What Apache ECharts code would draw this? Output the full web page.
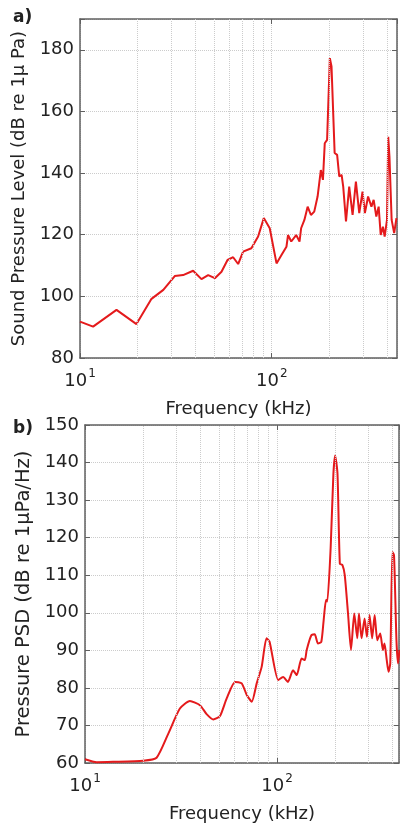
<!DOCTYPE html>
<html><head><meta charset="utf-8">
<script src="https://cdn.jsdelivr.net/npm/echarts@6/dist/echarts.min.js"></script>
<style>html,body{margin:0;padding:0;background:#fff}#c{width:400px;height:824px}</style>
</head><body><div id="c"></div>
<script>
// Panel a: Sound pressure level
var freqA = [10, 11.7, 15.5, 19.7, 23.6, 27.2, 31.2, 34.5, 38.9, 43.0, 46.6, 50.5, 54.7, 58.8, 62.9, 66.8, 70.9, 78.3, 84.9, 90.9, 97.6, 105.9, 112.4, 119.3, 121.6, 126.4, 134.1, 139.6, 142.3, 148, 153.9, 160.1, 166.6, 173.4, 180.3, 184.9, 189.0, 194.4, 200.9, 205, 212.8, 219.3, 224.9, 231.4, 235.9, 243.9, 253.5, 264, 274.7, 286, 297.5, 306, 318, 331, 340, 351, 361, 370, 380, 388, 399, 405, 411, 422, 435, 447];
var splA = [91.8, 90.2, 95.6, 91.0, 99.2, 102.1, 106.6, 106.9, 108.3, 105.6, 106.9, 105.9, 108.0, 111.8, 112.7, 110.5, 114.5, 115.6, 119.4, 125.4, 122.1, 110.7, 113.4, 116.1, 119.9, 117.8, 119.9, 117.8, 122.1, 124.8, 129.1, 126.4, 127.5, 132.4, 141.0, 137.8, 149.7, 150.8, 177.3, 174.6, 146.5, 145.9, 138.9, 139.4, 135.6, 124.3, 135.6, 126.4, 137.2, 127.0, 134.0, 127.0, 132.4, 129.1, 131.3, 125.9, 129.1, 119.9, 122.6, 119.4, 124.8, 151.8, 145.4, 124.8, 120.5, 125.4];
// Panel b: Pressure PSD
var freqB = [10, 11.5, 14.0, 20.1, 23.6, 27.2, 31.2, 35.2, 39.7, 43.0, 46.6, 50.5, 54.7, 60.5, 65.5, 69.6, 73.9, 78.4, 83.2, 88.2, 91.5, 101.4, 107.6, 114, 121.2, 126.7, 134.3, 139.6, 142.8, 151, 157.2, 163.5, 170.2, 175, 180, 182.8, 190.4, 196.7, 200.9, 206.6, 212.5, 219.3, 225.4, 234.4, 242.9, 252.6, 262, 267.3, 275.7, 285.9, 294, 303.4, 313, 322.6, 333, 345, 356, 363, 373, 381, 389, 399, 407, 419, 427, 435];
var psdB = [61.0, 60.2, 60.3, 60.6, 61.4, 67.9, 74.5, 76.5, 75.4, 73.0, 71.6, 72.5, 77.2, 81.6, 81.2, 78.1, 76.3, 81.2, 85.6, 93.2, 92.3, 82.1, 82.9, 81.6, 84.7, 83.4, 87.8, 87.4, 90.1, 94.0, 94.3, 91.8, 92.3, 98.0, 103.4, 103.0, 117.5, 137.0, 141.9, 137.0, 113.1, 112.7, 110.0, 99.8, 90.1, 99.8, 93.2, 99.8, 93.2, 98.5, 93.6, 99.4, 93.2, 99.4, 92.7, 94.5, 90.1, 91.8, 87.4, 84.3, 86.5, 116.2, 115.3, 92.7, 86.5, 90.1];
// Minor log grid positions (kHz)
var minorGrid = [20, 30, 40, 50, 60, 70, 80, 90, 200, 300, 400];
var yTicksA = {min: 80, max: 190, interval: 20};
var yTicksB = {min: 60, max: 150, interval: 10};

var FONT = 'DejaVu Sans';
var AX = '#606060';
var GRIDC = '#cccccc';
var RED = '#e41a1c';

function xLabelFmt(v) {
  var e = Math.log10(v);
  if (Math.abs(e - Math.round(e)) > 1e-6) return '';
  return '{b|10}{s|' + Math.round(e) + '}';
}
var xRich = {
  b: {fontFamily: FONT, fontSize: 18, color: '#222', lineHeight: 22, verticalAlign: 'bottom'},
  s: {fontFamily: FONT, fontSize: 12, color: '#222', lineHeight: 22, verticalAlign: 'top', padding: [0, 0, 0, 1]}
};

function makeX(gi, max, bottomAxis) {
  return {
    type: 'log', logBase: 10, gridIndex: gi, min: 10, max: max,
    position: bottomAxis ? 'bottom' : 'top',
    name: bottomAxis ? 'Frequency (kHz)' : '',
    nameLocation: 'middle', nameGap: 42,
    nameTextStyle: {fontFamily: FONT, fontSize: 18, color: '#222'},
    axisLine: {show: true, onZero: false, lineStyle: {color: AX, width: 1.5}},
    axisTick: {show: true, inside: true, length: 5, lineStyle: {color: AX}},
    axisLabel: {show: bottomAxis, formatter: xLabelFmt, rich: xRich, margin: 10, showMaxLabel: false},
    splitLine: {show: bottomAxis, lineStyle: {color: GRIDC, type: 'dotted', width: 1}}
  };
}
function makeY(gi, t, leftAxis, name, hideMax, nameSize, gap) {
  return {
    type: 'value', gridIndex: gi, min: t.min, max: t.max, interval: t.interval,
    position: leftAxis ? 'left' : 'right',
    name: leftAxis ? name : '',
    nameLocation: 'middle', nameGap: gap || 46,
    nameTextStyle: {fontFamily: FONT, fontSize: nameSize || 17, color: '#222'},
    axisLine: {show: true, lineStyle: {color: AX, width: 1.5}},
    axisTick: {show: true, inside: true, length: 5, lineStyle: {color: AX}},
    axisLabel: {show: leftAxis, fontFamily: FONT, fontSize: 18, color: '#222', margin: 6,
      formatter: function (v) { return (hideMax && v === t.max) ? '' : String(v); }},
    splitLine: {show: leftAxis, lineStyle: {color: GRIDC, type: 'dotted', width: 1}}
  };
}
function zip(xs, ys) { return xs.map(function (x, i) { return [x, ys[i]]; }); }
function gridSeries(xi, yi) {
  return {
    type: 'line', xAxisIndex: xi, yAxisIndex: yi, data: [], z: 1, silent: true,
    markLine: {silent: true, symbol: 'none', animation: false, label: {show: false},
      lineStyle: {color: GRIDC, type: 'dotted', width: 1},
      data: minorGrid.map(function (f) { return {xAxis: f}; })}
  };
}

var chart = echarts.init(document.getElementById('c'), null, {renderer: 'canvas'});
chart.setOption({
  animation: false,
  backgroundColor: '#fff',
  textStyle: {fontFamily: FONT},
  title: [
    {text: 'a)', left: 8, top: 4, textStyle: {fontFamily: FONT, fontSize: 17, fontWeight: 'bold', color: '#222'}},
    {text: 'b)', left: 8, top: 415, textStyle: {fontFamily: FONT, fontSize: 17, fontWeight: 'bold', color: '#222'}}
  ],
  grid: [
    {left: 80, top: 19, width: 317, height: 339},
    {left: 85, top: 425, width: 314, height: 338}
  ],
  xAxis: [makeX(0, 450, true), makeX(0, 450, false), makeX(1, 432, true), makeX(1, 432, false)],
  yAxis: [
    makeY(0, yTicksA, true, 'Sound Pressure Level (dB re 1\u03bc Pa)', true, 18, 47),
    makeY(0, yTicksA, false, '', true),
    makeY(1, yTicksB, true, 'Pressure PSD (dB re 1\u03bcPa/Hz)', false, 19.5, 48),
    makeY(1, yTicksB, false, '', false)
  ],
  series: [
    gridSeries(0, 0),
    gridSeries(2, 2),
    {type: 'line', xAxisIndex: 0, yAxisIndex: 0, data: zip(freqA, splA), showSymbol: false, z: 3,
      lineStyle: {color: RED, width: 2}, clip: true},
    {type: 'line', xAxisIndex: 2, yAxisIndex: 2, data: zip(freqB, psdB), showSymbol: false, z: 3,
      smooth: 0.2, lineStyle: {color: RED, width: 2}, clip: true}
  ]
});
</script></body></html>
